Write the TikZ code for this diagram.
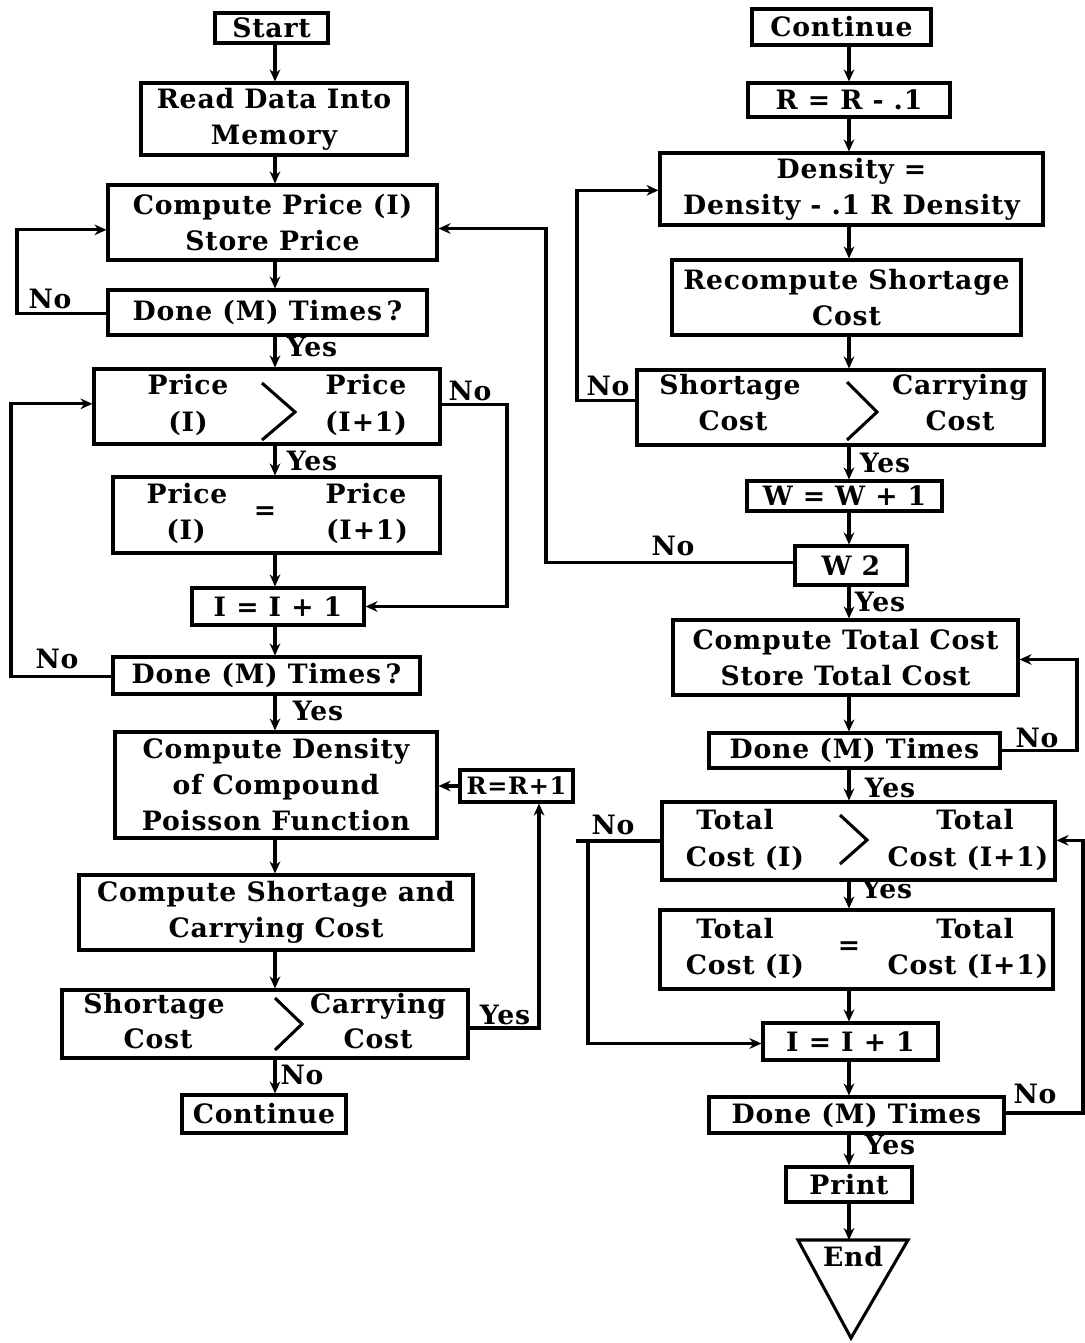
\documentclass[tikz,border=0pt]{standalone}
\usepackage{fontspec}
\setmainfont{DejaVu Serif}[LetterSpace=3]
\usetikzlibrary{arrows.meta}
\newcommand\fs{\fontsize{20}{27}\selectfont\bfseries}
\newcommand\bx[6]{\node[box, minimum width={(#4-#2)*0.75pt}, minimum height={(#5-#3)*0.75pt}] (#1) at ({(#2+#4)/2},{(#3+#5)/2}) {#6};}
\begin{document}
\begin{tikzpicture}[x=0.75pt,y=-0.75pt,
  box/.style={draw, line width=2.3pt, inner sep=0pt, align=center, font=\fs},
  lbl/.style={font=\fs, inner sep=0pt, text height=14pt, text depth=4pt},
  ln/.style={line width=2.3pt},
  arr/.style={line width=2.3pt, -{Stealth[length=9pt,width=8pt]}},
]
\useasboundingbox (0,0) rectangle (1085,1343);
\coordinate (LS) at (275,0);
\coordinate (RS) at (849,0);
% ---------------- left column ----------------
\bx{start}{215}{13}{328}{43}{Start}
\bx{read}{141}{83}{407}{155}{Read Data Into\\Memory}
\bx{cp}{108}{185}{437}{260}{Compute Price (I)\\Store Price}
\bx{done1}{108}{290}{427}{335}{Done (M) Times\,?}
\bx{pgt}{94}{369}{440}{444}{}
\bx{peq}{113}{477}{440}{553}{}
\bx{ii}{192}{588}{364}{625}{I = I + 1}
\bx{done2}{113}{657}{420}{694}{Done (M) Times\,?}
\bx{dens}{115}{732}{437}{838}{Compute Density\\of Compound\\Poisson Function}
\bx{rr}{460}{770}{573}{802}{\fontsize{18}{24}\selectfont R=R+1}
\bx{scc}{79}{875}{473}{950}{Compute Shortage and\\Carrying Cost}
\bx{sgt}{62}{990}{468}{1058}{}
\bx{cont}{182}{1095}{346}{1133}{Continue}
% texts in decision boxes
\node[lbl] (pgta) at (188,388) {Price};
\node[lbl] (pgtb) at (188,425) {(I)};
\node[lbl] (pgtc) at (366,388) {Price};
\node[lbl] (pgtd) at (366,425) {(I+1)};
\draw[ln] (262,383) -- (295,412) -- (262,440);
\node[lbl] (peqa) at (187,497) {Price};
\node[lbl] (peqb) at (186,533) {(I)};
\node[lbl] (peqc) at (366,497) {Price};
\node[lbl] (peqd) at (367,533) {(I+1)};
\node[lbl] (peqe) at (265,513) {=};
\node[lbl] (sgta) at (154,1007) {Shortage};
\node[lbl] (sgtb) at (158,1042) {Cost};
\node[lbl] (sgtc) at (378,1007) {Carrying};
\node[lbl] (sgtd) at (378,1042) {Cost};
\draw[ln] (275,998) -- (302,1024) -- (275,1050);
% ---------------- right column ----------------
\bx{rcont}{752}{9}{931}{45}{Continue}
\bx{rr1}{748}{83}{950}{117}{R = R - .1}
\bx{dens2}{660}{153}{1043}{225}{Density =\\Density - .1 R Density}
\bx{recomp}{672}{260}{1021}{335}{Recompute Shortage\\Cost}
\bx{sgt2}{637}{370}{1044}{445}{}
\bx{w}{747}{481}{942}{511}{W = W + 1}
\bx{w2}{795}{546}{907}{585}{W 2}
\bx{ctc}{673}{620}{1018}{695}{Compute Total Cost\\Store Total Cost}
\bx{dn3}{709}{733}{1000}{768}{Done (M) Times}
\bx{tgt}{662}{802}{1055}{880}{}
\bx{teq}{660}{910}{1053}{989}{}
\bx{ii2}{763}{1023}{938}{1060}{I = I + 1}
\bx{dn4}{709}{1097}{1004}{1133}{Done (M) Times}
\bx{print}{786}{1167}{912}{1202}{Print}
\coordinate (endtop) at (851,1240);
\draw[ln] (798,1240) -- (908,1240) -- (851,1338) -- cycle;
\node[lbl] (endt) at (853,1260) {End};
% texts in decision boxes
\node[lbl] (sg2a) at (730,388) {Shortage};
\node[lbl] (sg2b) at (733,424) {Cost};
\node[lbl] (sg2c) at (960,388) {Carrying};
\node[lbl] (sg2d) at (960,424) {Cost};
\draw[ln] (847,382) -- (877,412) -- (847,440);
\node[lbl] (tgta) at (735,823) {Total};
\node[lbl] (tgtb) at (745,860) {Cost (I)};
\node[lbl] (tgtc) at (975,823) {Total};
\node[lbl] (tgtd) at (968,860) {Cost (I+1)};
\draw[ln] (840,815) -- (867,840) -- (840,864);
\node[lbl] (teqa) at (735,932) {Total};
\node[lbl] (teqb) at (745,968) {Cost (I)};
\node[lbl] (teqc) at (975,932) {Total};
\node[lbl] (teqd) at (968,968) {Cost (I+1)};
\node[lbl] (teqe) at (849,948) {=};
% ---------------- shifted anchor points ----------------
\coordinate (cpW) at ([yshift=-5.5pt]cp.west);
\coordinate (cpE) at ([yshift=-4.5pt]cp.east);
\coordinate (pgtE) at ([yshift=1.5pt]pgt.east);
\coordinate (pgtW) at ([yshift=2pt]pgt.west);
\coordinate (done1W) at ([yshift=-1pt]done1.west);
\coordinate (done2W) at ([yshift=-1pt]done2.west);
\coordinate (sgtE) at ([yshift=-3pt]sgt.east);
\coordinate (sgt2W) at ([yshift=5pt]sgt2.west);
\coordinate (dens2W) at ([yshift=-1pt]dens2.west);
\coordinate (w2W) at ([yshift=2.5pt]w2.west);
\coordinate (ctcE) at ([yshift=-1.5pt]ctc.east);
\coordinate (ii2W) at ([yshift=-1.5pt]ii2.west);
\coordinate (tgtE) at ([yshift=0.5pt]tgt.east);
\coordinate (dn4E) at ([yshift=1.5pt]dn4.east);
% ---------------- left connectors ----------------
\foreach \a/\b in {start/read,read/cp,cp/done1,done1/pgt,pgt/peq,peq/ii,ii/done2,done2/dens,dens/scc,scc/sgt,sgt/cont}
  \draw[arr] (\a.south -| LS) -- (\b.north -| LS);
\coordinate (L1) at (17,0);
\draw[arr] (done1W) -- (done1W -| L1) -- (L1 |- cpW) -- (cpW);
\coordinate (L2) at (507,0);
\draw[arr] (pgtE) -- (pgtE -| L2) -- (L2 |- ii.east) -- (ii.east);
\coordinate (L3) at (11,0);
\draw[arr] (done2W) -- (done2W -| L3) -- (L3 |- pgtW) -- (pgtW);
\coordinate (L4) at (539,0);
\draw[arr] (sgtE) -- (sgtE -| L4) -- (L4 |- rr.south);
\draw[arr] (rr.west) -- (rr.west -| dens.east);
% ---------------- right connectors ----------------
\foreach \a/\b in {rcont/rr1,rr1/dens2,dens2/recomp,recomp/sgt2,sgt2/w,w/w2,w2/ctc,ctc/dn3,dn3/tgt,tgt/teq,teq/ii2,ii2/dn4,dn4/print}
  \draw[arr] (\a.south -| RS) -- (\b.north -| RS);
\draw[arr] (print.south -| RS) -- (endtop -| RS);
\coordinate (R1) at (577,0);
\draw[arr] (sgt2W) -- (sgt2W -| R1) -- (R1 |- dens2W) -- (dens2W);
\coordinate (R2) at (546,0);
\draw[arr] (w2W) -- (w2W -| R2) -- (R2 |- cpE) -- (cpE);
\coordinate (R3) at (1077,0);
\draw[arr] (dn3.east) -- (dn3.east -| R3) -- (R3 |- ctcE) -- (ctcE);
\coordinate (R4) at (576,0);
\coordinate (R5) at (588,0);
\draw[ln] (tgt.west) -- (tgt.west -| R4);
\draw[arr] (tgt.west -| R5) -- (R5 |- ii2W) -- (ii2W);
\coordinate (R6) at (1083,0);
\draw[arr] (dn4E) -- (dn4E -| R6) -- (R6 |- tgtE) -- (tgtE);
% ---------------- Yes / No labels ----------------
\node[lbl] (n1) at (50,302) {No};
\node[lbl] (y1) at (312,350) {Yes};
\node[lbl] (n2) at (470,394) {No};
\node[lbl] (y2) at (312,464) {Yes};
\node[lbl] (n3) at (57,662) {No};
\node[lbl] (y3) at (318,714) {Yes};
\node[lbl] (y4) at (505,1018) {Yes};
\node[lbl] (n4) at (302,1078) {No};
\node[lbl] (n5) at (608,389) {No};
\node[lbl] (y5) at (885,466) {Yes};
\node[lbl] (n6) at (673,549) {No};
\node[lbl] (y6) at (880,605) {Yes};
\node[lbl] (n7) at (1037,741) {No};
\node[lbl] (y7) at (890,791) {Yes};
\node[lbl] (n8) at (613,828) {No};
\node[lbl] (y8) at (887,892) {Yes};
\node[lbl] (n9) at (1035,1097) {No};
\node[lbl] (y9) at (890,1148) {Yes};
\end{tikzpicture}
\end{document}
